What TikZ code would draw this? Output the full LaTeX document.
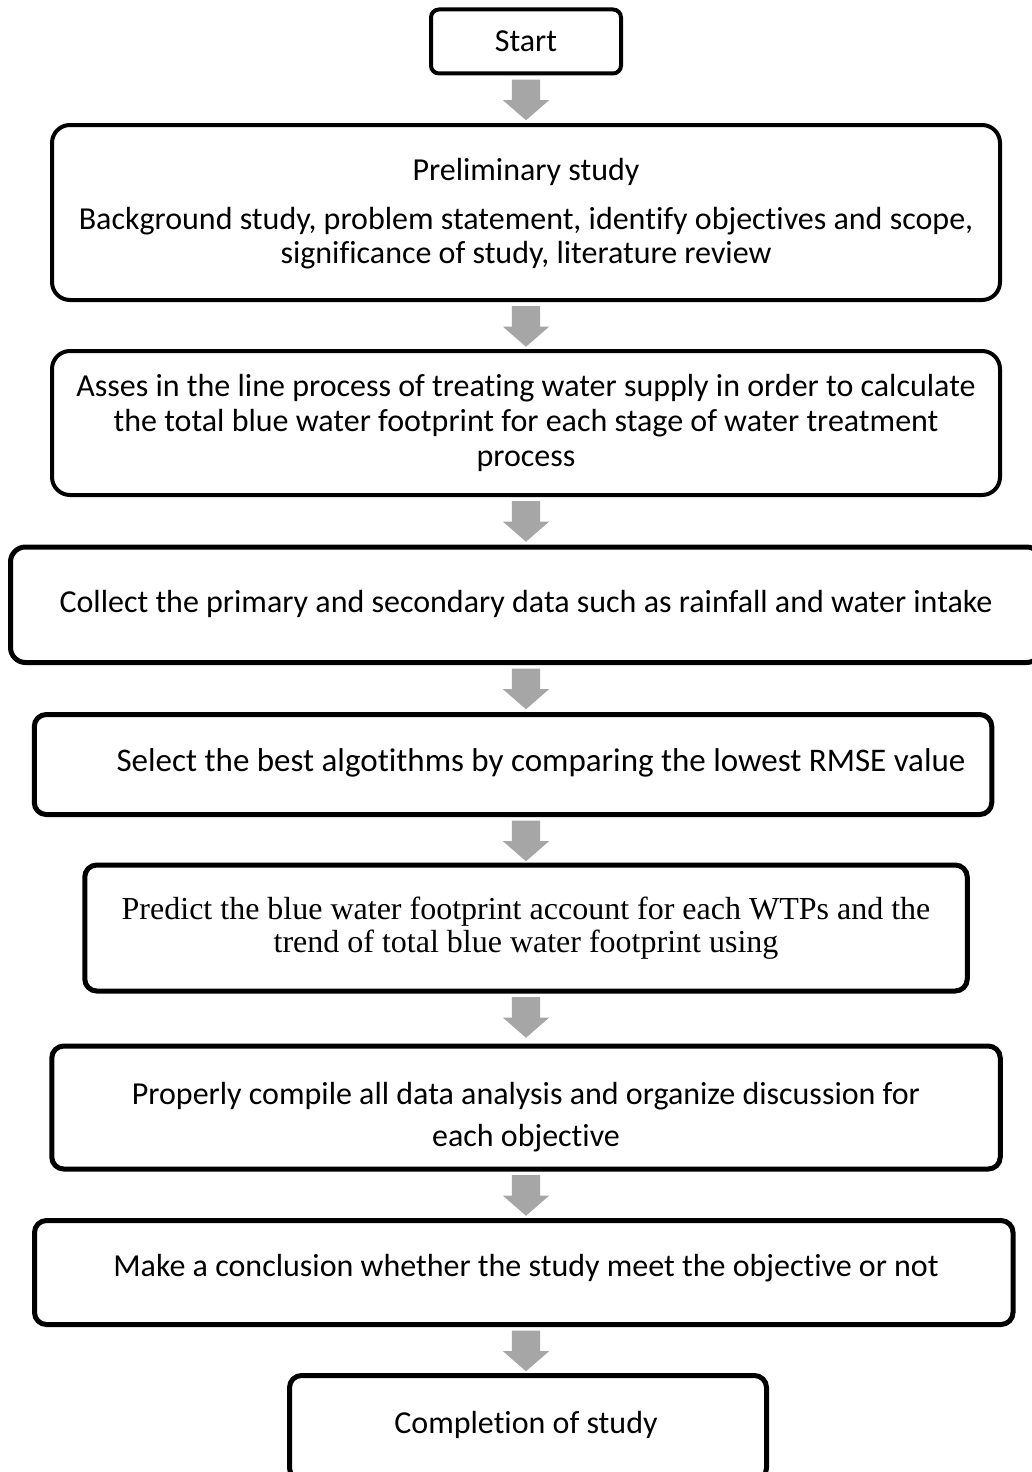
\documentclass[tikz,border=0pt]{standalone}
\usepackage{fontspec}
\setmainfont{Carlito}[Ligatures=NoCommon]
\newfontfamily\serifface{Liberation Serif}
\usetikzlibrary{calc,shapes.arrows}
\definecolor{arrowgray}{HTML}{A6A6A6}
\begin{document}
\begin{tikzpicture}[x=1pt,y=-1pt,
  stagebox/.style={draw=black, line width=5pt, rounded corners=12pt,
    inner sep=0pt, outer sep=0pt},
  thinbox/.style={stagebox, line width=4pt, rounded corners=18pt},
  caption/.style={font=\fontsize{32}{34}\selectfont, align=center,
    inner sep=0pt, outer sep=0pt},
  flowarrow/.style={single arrow, fill=arrowgray, draw=none,
    minimum height=38pt, minimum width=46pt,
    single arrow head extend=9pt, single arrow tip angle=98,
    shape border rotate=270, inner sep=14pt, outer sep=0pt, anchor=tail}]

% page
\fill[white] (0,0) rectangle (1032,1472);
\useasboundingbox (0,0) rectangle (1032,1472);
\coordinate (axis) at (526,0);

% stages
\node[thinbox, rounded corners=8pt, minimum width=190pt, minimum height=64pt]
  (b1) at (526,41.5) {};
\node[caption] (t1) at (526,41) {Start};

\node[thinbox, minimum width=948pt, minimum height=175pt] (b2) at (526,212.5) {};
\node[caption] (t2) at (526,213.5) {Preliminary study\\[15pt]
  Background study, problem statement, identify objectives and scope,\\
  significance of study, literature review};

\node[thinbox, minimum width=948pt, minimum height=144pt] (b3) at (526,423) {};
\node[caption, font=\fontsize{32}{35}\selectfont] (t3) at (526,423) {Asses in the line process of treating water supply in order to calculate\\
  the total blue water footprint for each stage of water treatment\\
  process};

\node[stagebox, rounded corners=15pt, minimum width=1031pt, minimum height=115.5pt]
  (b4) at (526,604.75) {};
\node[caption] (t4) at (526,604) {Collect the primary and secondary data such as rainfall and water intake};

\node[stagebox, minimum width=957.5pt, minimum height=100pt] (b5) at (513,764.5) {};
\node[caption, font=\fontsize{33}{34}\selectfont] (t5) at (541,763) {Select the best algotithms by comparing the lowest RMSE value};

\node[stagebox, minimum width=882.5pt, minimum height=126pt] (b6) at (526,928) {};
\node[caption, font=\serifface\fontsize{32}{33}\selectfont] (t6) at (526,928)
  {Predict the blue water footprint account for each WTPs and the\\
  trend of total blue water footprint using};

\node[stagebox, minimum width=948.5pt, minimum height=123pt] (b7) at (526,1107.5) {};
\node[caption] (t7) at (526,1117) {Properly compile all data analysis and organize discussion for\\[8pt]
  each objective};

\node[stagebox, minimum width=978.5pt, minimum height=104pt] (b8) at (523.75,1272.5) {};
\node[caption] (t8) at (526,1268) {Make a conclusion whether the study meet the objective or not};

\node[stagebox, minimum width=477pt, minimum height=104.5pt] (b9) at (528,1427.75) {};
\node[caption] (t9) at (526,1425) {Completion of study};

% block arrows between consecutive stages
\foreach \a/\b in {b1/b2,b2/b3,b3/b4,b4/b5,b5/b6,b6/b7,b7/b8,b8/b9}
  \node[flowarrow] (arr-\a) at ($(\a.south -| axis)+(0,-6pt)$) {};
\end{tikzpicture}
\end{document}
